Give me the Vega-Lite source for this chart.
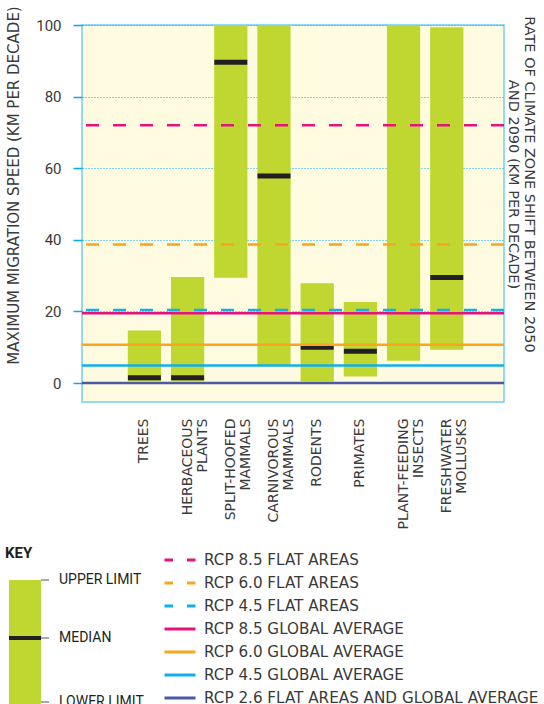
{
  "$schema": "https://vega.github.io/schema/vega-lite/v6.json",
  "background": "white",
  "padding": {"left": 5, "top": 5, "right": 0, "bottom": 0},
  "config": {
    "view": {"stroke": "#6dcff6", "strokeWidth": 1.5, "fill": "#fffbe1"},
    "font": "Roboto"
  },
  "datasets": {
    "groups": [
      {"cat": "TREES", "lower": 0.5, "upper": 14.7, "median": 1.5},
      {"cat": "HERBACEOUS|PLANTS", "lower": 0.5, "upper": 29.6, "median": 1.5},
      {"cat": "SPLIT-HOOFED|MAMMALS", "lower": 29.4, "upper": 100, "median": 89.6},
      {"cat": "CARNIVOROUS|MAMMALS", "lower": 4.8, "upper": 100, "median": 57.8},
      {"cat": "RODENTS", "lower": 0.4, "upper": 27.9, "median": 10.0},
      {"cat": "PRIMATES", "lower": 1.8, "upper": 22.6, "median": 8.9},
      {"cat": "PLANT-FEEDING|INSECTS", "lower": 6.2, "upper": 100, "median": null},
      {"cat": "FRESHWATER|MOLLUSKS", "lower": 9.3, "upper": 99.4, "median": 29.5}
    ],
    "rates": [
      {"series": "RCP 8.5 FLAT AREAS", "value": 72},
      {"series": "RCP 6.0 FLAT AREAS", "value": 38.7},
      {"series": "RCP 4.5 FLAT AREAS", "value": 20.4},
      {"series": "RCP 8.5 GLOBAL AVERAGE", "value": 19.5},
      {"series": "RCP 6.0 GLOBAL AVERAGE", "value": 10.7},
      {"series": "RCP 4.5 GLOBAL AVERAGE", "value": 4.9},
      {"series": "RCP 2.6 FLAT AREAS AND GLOBAL AVERAGE", "value": 0}
    ],
    "key": [{"lower": 0, "upper": 100, "median": 53.6}],
    "keylabels": [
      {"label": "UPPER LIMIT", "pos": 100},
      {"label": "MEDIAN", "pos": 53.6},
      {"label": "LOWER LIMIT", "pos": 2.4}
    ]
  },
  "resolve": {"scale": {"color": "shared", "strokeDash": "shared"}},
  "concat": [
    {
      "width": 422,
      "height": 377,
      "layer": [
        {
          "data": {"name": "groups"},
          "mark": {"type": "bar", "color": "#bfd730"},
          "encoding": {
            "x": {
              "field": "cat", "type": "nominal", "sort": null,
              "scale": {"paddingInner": 0.23, "paddingOuter": 1.038, "align": 0.53},
              "axis": {
                "title": null, "labelAngle": 270, "labelExpr": "split(datum.label, '|')",
                "labelFont": "DejaVu Sans", "labelFontSize": 14, "labelColor": "#3a3a3a",
                "labelPadding": 16, "labelLineHeight": 15, "ticks": false, "domain": false
              }
            },
            "y": {
              "field": "lower", "type": "quantitative",
              "scale": {"domain": [-5.3, 100], "nice": false, "zero": false},
              "axis": {
                "values": [0, 20, 40, 60, 80, 100],
                "title": "MAXIMUM MIGRATION SPEED (KM PER DECADE)",
                "titleFont": "DejaVu Sans", "titleFontSize": 15, "titleFontWeight": "normal",
                "titleColor": "#3a3a3a", "titleAngle": 270, "titleX": -69, "titleY": 160,
                "titleAlign": "center", "titleBaseline": "middle",
                "labelFont": "Roboto", "labelFontSize": 15, "labelColor": "#3a3a3a",
                "labelPadding": 12, "tickSize": 9, "tickColor": "#00aeef", "tickWidth": 1.5,
                "domain": false, "grid": true, "gridColor": "#00aeef", "gridDash": [1, 2], "gridWidth": 1
              }
            },
            "y2": {"field": "upper"}
          }
        },
        {
          "data": {"name": "groups"},
          "transform": [{"filter": "datum.median != null"}],
          "mark": {"type": "tick", "color": "#231f20", "thickness": 5, "size": 33, "opacity": 1},
          "encoding": {
            "x": {"field": "cat", "type": "nominal", "sort": null},
            "y": {"field": "median", "type": "quantitative", "axis": null}
          }
        },
        {
          "data": {"name": "rates"},
          "mark": {"type": "rule", "strokeWidth": 2.5},
          "encoding": {
            "y": {
              "field": "value", "type": "quantitative",
              "axis": {
                "orient": "right", "labels": false, "ticks": false, "domain": false, "grid": false,
                "title": ["RATE OF CLIMATE ZONE SHIFT BETWEEN 2050", "AND 2090 (KM PER DECADE)"],
                "titleFont": "DejaVu Sans", "titleFontSize": 14.5, "titleFontWeight": "normal",
                "titleColor": "#3a3a3a", "titleAngle": 90, "titleX": 24, "titleY": 159,
                "titleAlign": "center", "titleBaseline": "middle", "titleLineHeight": 16
              }
            },
            "color": {
              "field": "series", "type": "nominal",
              "scale": {
                "domain": ["RCP 8.5 FLAT AREAS", "RCP 6.0 FLAT AREAS", "RCP 4.5 FLAT AREAS", "RCP 8.5 GLOBAL AVERAGE", "RCP 6.0 GLOBAL AVERAGE", "RCP 4.5 GLOBAL AVERAGE", "RCP 2.6 FLAT AREAS AND GLOBAL AVERAGE"],
                "range": ["#e6127f", "#f8a620", "#10b0ea", "#e6127f", "#f8a620", "#10b0ea", "#4c5aa5"]
              },
              "legend": {
                "orient": "none", "legendX": 81, "legendY": 525, "title": null,
                "symbolType": "stroke", "symbolSize": 961, "symbolStrokeWidth": 3, "symbolDashOffset": 4.5,
                "labelFont": "DejaVu Sans", "labelFontSize": 15.2, "labelColor": "#3a3a3a",
                "labelOffset": 7, "rowPadding": 3, "clipHeight": 20, "labelLimit": 0
              }
            },
            "strokeDash": {
              "field": "series", "type": "nominal",
              "scale": {
                "domain": ["RCP 8.5 FLAT AREAS", "RCP 6.0 FLAT AREAS", "RCP 4.5 FLAT AREAS", "RCP 8.5 GLOBAL AVERAGE", "RCP 6.0 GLOBAL AVERAGE", "RCP 4.5 GLOBAL AVERAGE", "RCP 2.6 FLAT AREAS AND GLOBAL AVERAGE"],
                "range": [[13, 14], [13, 14], [13, 14], [1, 0], [1, 0], [1, 0], [1, 0]]
              },
              "legend": {
                "orient": "none", "legendX": 81, "legendY": 525, "title": null,
                "symbolType": "stroke", "symbolSize": 961, "symbolStrokeWidth": 3, "symbolDashOffset": 4.5,
                "labelFont": "DejaVu Sans", "labelFontSize": 15.2, "labelColor": "#3a3a3a",
                "labelOffset": 7, "rowPadding": 3, "clipHeight": 20, "labelLimit": 0
              }
            }
          }
        }
      ],
      "resolve": {"axis": {"y": "independent"}}
    },
    {
      "width": 140,
      "height": 125,
      "view": {"stroke": null, "fill": null},
      "title": {"text": "KEY", "anchor": "start", "font": "Roboto", "fontWeight": "bold", "fontSize": 15, "color": "#231f20", "offset": 12, "dx": -2},
      "layer": [
        {
          "data": {"name": "key"},
          "mark": {"type": "rect", "color": "#bfd730"},
          "encoding": {
            "x": {"datum": 0, "type": "quantitative", "scale": {"domain": [9.125, 26.625], "nice": false, "zero": false}, "axis": null},
            "x2": {"datum": 4},
            "y": {"field": "lower", "type": "quantitative", "scale": {"domain": [0, 100], "nice": false}, "axis": null},
            "y2": {"field": "upper"}
          }
        },
        {
          "data": {"name": "key"},
          "mark": {"type": "rule", "color": "#231f20", "strokeWidth": 4},
          "encoding": {
            "x": {"datum": 0, "type": "quantitative"},
            "x2": {"datum": 4},
            "y": {"field": "median", "type": "quantitative"}
          }
        },
        {
          "data": {"name": "keylabels"},
          "mark": {"type": "rule", "color": "#555555", "strokeWidth": 1},
          "encoding": {
            "x": {"datum": 4, "type": "quantitative"},
            "x2": {"datum": 5},
            "y": {"field": "pos", "type": "quantitative"}
          }
        },
        {
          "data": {"name": "keylabels"},
          "mark": {"type": "text", "align": "left", "baseline": "middle", "font": "Roboto", "fontSize": 14, "color": "#231f20"},
          "encoding": {
            "x": {"datum": 6.25, "type": "quantitative"},
            "y": {"field": "pos", "type": "quantitative"},
            "text": {"field": "label"}
          }
        }
      ]
    }
  ],
  "columns": 1,
  "align": "none",
  "spacing": 16
}
